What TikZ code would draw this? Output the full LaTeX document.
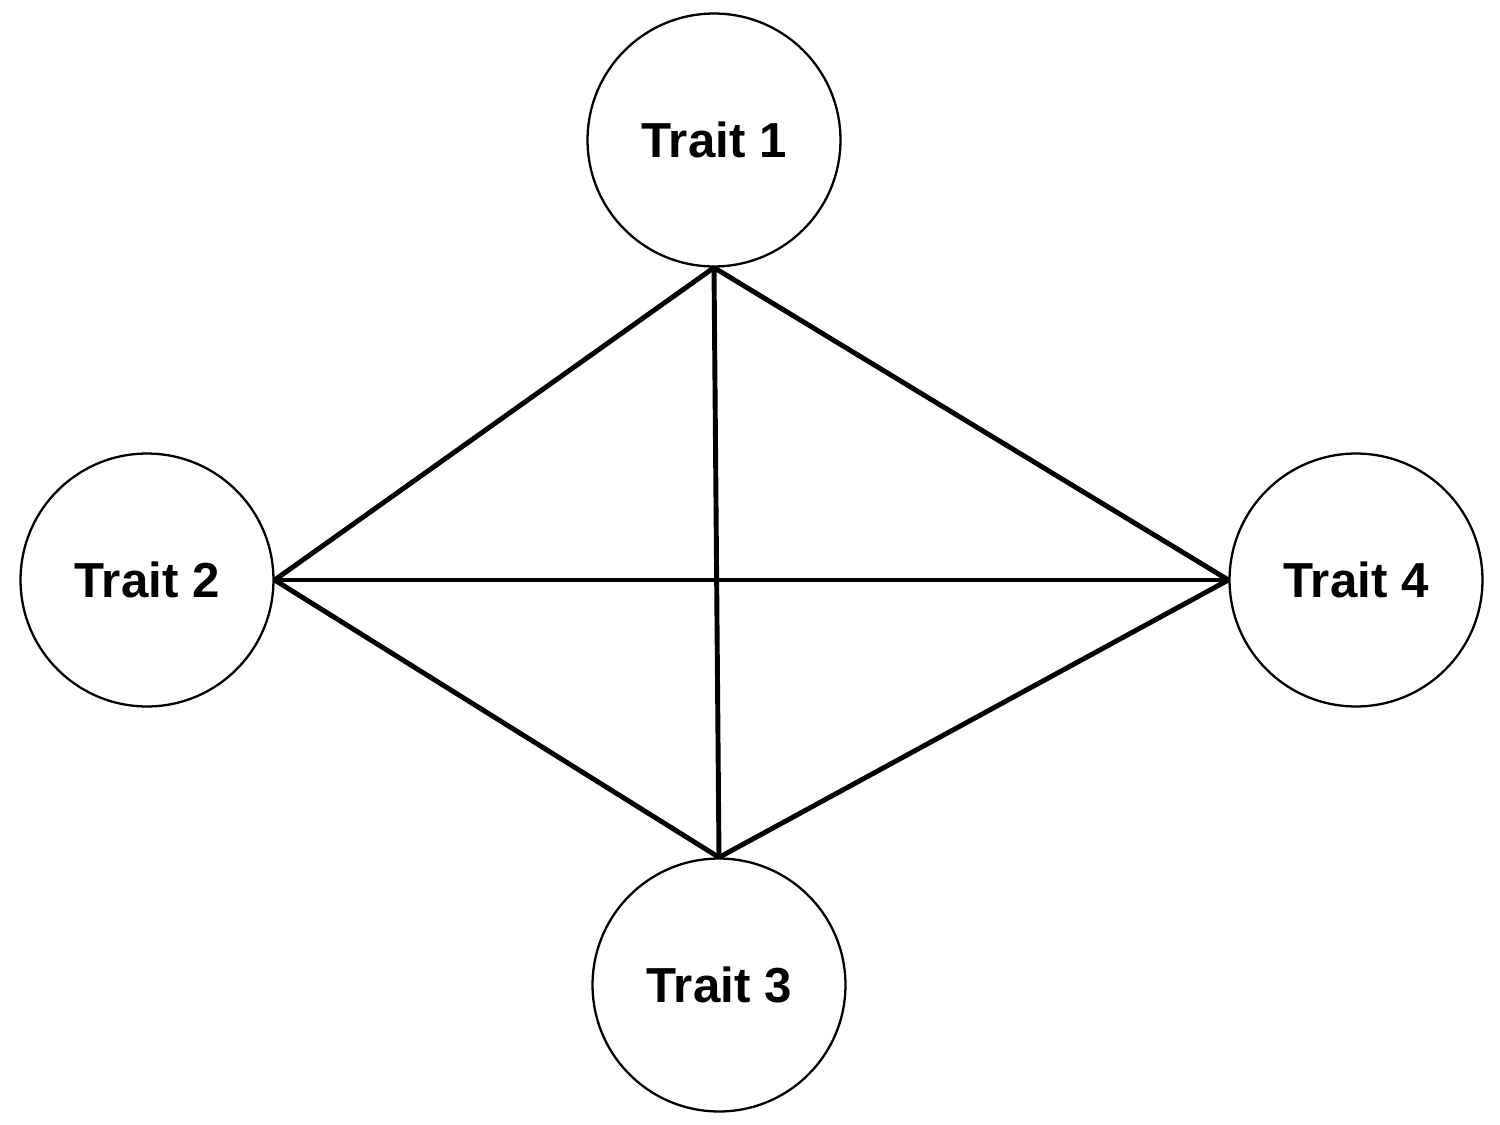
\documentclass[tikz,border=0pt]{standalone}
\usepackage{fontspec}
\setmainfont{Liberation Sans}
\begin{document}
\begin{tikzpicture}[x=0.02cm,y=-0.02cm,
  trait/.style={circle,draw,line width=1.3pt,minimum size=5.06cm,inner sep=0pt,font=\fontsize{28}{32}\selectfont\bfseries},
  link/.style={line width=2.8pt}]
\useasboundingbox (0,0) rectangle (1500,1125);
\node[trait] (t1) at (714,140) {Trait 1};
\node[trait] (t2) at (147,580) {Trait 2};
\node[trait] (t3) at (719,985) {Trait 3};
\node[trait] (t4) at (1356,580) {Trait 4};
\draw[link] (t1.south) -- (t2.east);
\draw[link] (t1.south) -- (t3.north);
\draw[link] (t1.south) -- (t4.west);
\draw[link] (t2.east) -- (t4.west);
\draw[link] (t2.east) -- (t3.north);
\draw[link] (t3.north) -- (t4.west);
\end{tikzpicture}
\end{document}
